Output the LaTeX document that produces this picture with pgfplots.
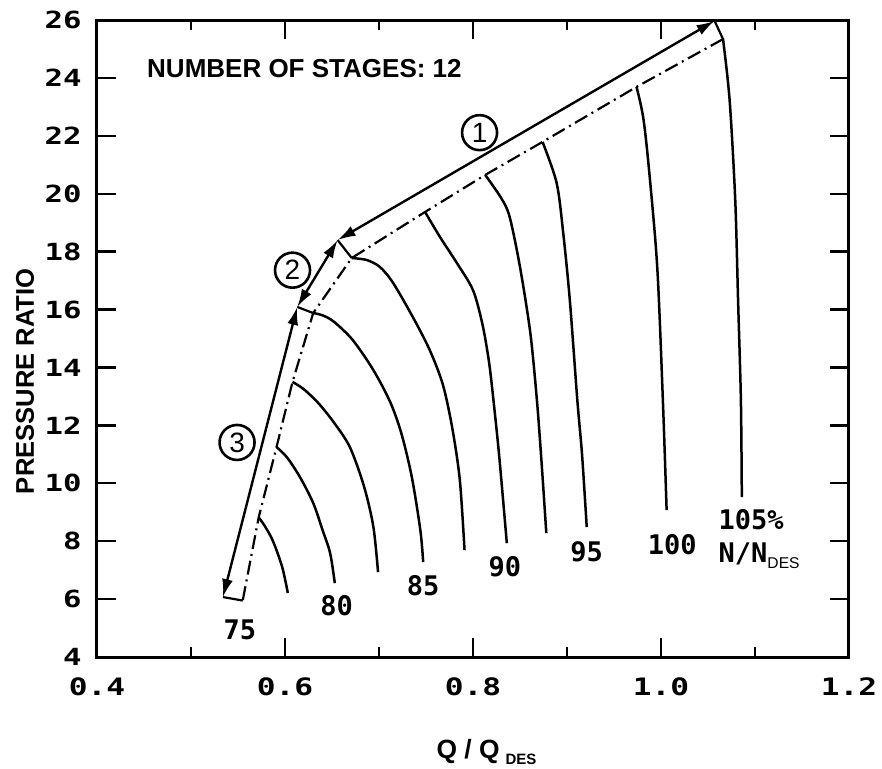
\documentclass[border=0pt]{standalone}
\usepackage{fontspec}
\setmainfont{Liberation Sans}
\newfontfamily\tickfont[FakeStretch=1.3]{DejaVu Sans Mono Bold}
\newfontfamily\labfont{DejaVu Sans Mono Bold}
\usepackage{pgfplots}
\pgfplotsset{compat=1.18}
\usetikzlibrary{arrows.meta}
\begin{document}
\begin{tikzpicture}
\path[use as bounding box] (-48.5pt,-55.5pt) rectangle (392.5pt,328.5pt);
\begin{axis}[
  name=ax, at={(0,0)}, anchor=south west,
  scale only axis, width=376pt, height=318.5pt,
  xmin=0.4, xmax=1.2, ymin=4, ymax=26,
  xtick={0.4,0.6,0.8,1.0,1.2},
  xticklabels={0.4,0.6,0.8,1.0,1.2},
  minor xtick={0.5,0.7,0.9,1.1},
  ytick={4,6,8,10,12,14,16,18,20,22,24,26},
  yticklabels={4,6,8,10,12,14,16,18,20,22,24,26},
  tick align=inside,
  major tick length=9.5pt, minor tick length=5pt,
  every tick/.style={black, line width=1.2pt},
  axis line style={line width=1.5pt},
  xticklabel style={font=\tickfont\fontsize{12}{13}\selectfont, inner sep=0pt, anchor=north, yshift=-10pt},
  yticklabel style={font=\tickfont\fontsize{11.8}{13}\selectfont, inner sep=0pt, anchor=east, xshift=-7.5pt},
  xlabel={Q / Q\hspace{3pt}\raisebox{-3pt}{\fontsize{7.5}{8}\selectfont DES}},
  xlabel style={font=\bfseries\fontsize{13.2}{14}\selectfont, at={(axis description cs:0.518,-0.1586)}, anchor=base},
  ylabel={PRESSURE RATIO},
  ylabel style={font=\bfseries\fontsize{12.8}{14}\selectfont, at={(axis description cs:-0.0957,0.433)}, anchor=center},
  clip=false,
]
% speed lines
\pgfplotsset{spd/.style={black, line width=1.25pt, smooth, tension=0.5, mark=none}}
\addplot[spd] coordinates {(0.572,8.82)(0.578,8.55)(0.587,8.02)(0.597,7.11)(0.603,6.21)};
\addplot[spd] coordinates {(0.591,11.25)(0.602,10.90)(0.616,10.21)(0.630,9.32)(0.640,8.38)(0.648,7.59)(0.653,6.55)};
\addplot[spd] coordinates {(0.608,13.50)(0.620,13.25)(0.636,12.75)(0.652,12.10)(0.669,11.25)(0.684,9.90)(0.694,8.50)(0.699,6.93)};
\addplot[spd] coordinates {(0.630,15.88)(0.640,15.80)(0.652,15.58)(0.672,14.95)(0.694,13.91)(0.712,12.80)(0.724,11.70)(0.735,10.20)(0.744,8.38)(0.747,7.28)};
\addplot[spd] coordinates {(0.671,17.78)(0.687,17.71)(0.701,17.47)(0.715,16.92)(0.736,15.74)(0.754,14.60)(0.768,13.40)(0.778,11.90)(0.786,10.11)(0.791,7.69)};
\addplot[spd] coordinates {(0.749,19.37)(0.765,18.50)(0.783,17.60)(0.800,16.67)(0.810,15.50)(0.817,14.20)(0.822,12.80)(0.828,10.90)(0.836,7.93)};
\addplot[spd] coordinates {(0.813,20.65)(0.830,19.85)(0.839,19.20)(0.850,17.47)(0.861,15.19)(0.868,12.87)(0.873,10.70)(0.878,8.28)};
\addplot[spd] coordinates {(0.874,21.79)(0.889,20.37)(0.896,18.64)(0.903,16.33)(0.911,12.87)(0.916,11.00)(0.921,8.49)};
\addplot[spd] coordinates {(0.974,23.69)(0.981,22.65)(0.987,20.92)(0.996,17.47)(1.002,12.87)(1.006,9.07)};
\addplot[spd] coordinates {(1.066,25.34)(1.073,23.24)(1.079,19.78)(1.082,16.33)(1.085,12.87)(1.086,9.52)};
% surge line (dash-dot)
\addplot[black, line width=1.1pt, dash pattern=on 7pt off 2.5pt on 1pt off 2.5pt, mark=none]
  coordinates {(1.066,25.34)(0.974,23.69)(0.874,21.79)(0.813,20.65)(0.749,19.37)(0.671,17.78)(0.630,15.88)(0.608,13.50)(0.591,11.25)(0.572,8.82)(0.555,5.95)};
% arrow segments
\pgfplotsset{arr/.style={black, line width=1.2pt, mark=none, arrows={Latex[length=9pt,width=5.5pt]-Latex[length=9pt,width=5.5pt]}}}
\addplot[arr] coordinates {(0.656,18.40)(1.057,25.97)};
\addplot[arr] coordinates {(0.613,16.09)(0.656,18.40)};
\addplot[arr] coordinates {(0.534,6.07)(0.613,16.09)};
% connectors
\addplot[black, line width=1.1pt, mark=none] coordinates {(1.057,25.97)(1.066,25.34)};
\addplot[black, line width=1.1pt, mark=none] coordinates {(0.656,18.40)(0.671,17.78)};
\addplot[black, line width=1.1pt, mark=none] coordinates {(0.613,16.09)(0.630,15.88)};
\addplot[black, line width=1.1pt, mark=none] coordinates {(0.534,6.07)(0.555,5.95)};
% labels
\node[font=\labfont\fontsize{13.5}{14}\selectfont] at (axis cs:0.552,4.93) {75};
\node[font=\labfont\fontsize{13.5}{14}\selectfont] at (axis cs:0.655,5.79) {80};
\node[font=\labfont\fontsize{13.5}{14}\selectfont] at (axis cs:0.747,6.48) {85};
\node[font=\labfont\fontsize{13.5}{14}\selectfont] at (axis cs:0.834,7.11) {90};
\node[font=\labfont\fontsize{13.5}{14}\selectfont] at (axis cs:0.921,7.62) {95};
\node[font=\labfont\fontsize{13.5}{14}\selectfont] at (axis cs:1.012,7.87) {100};
\node[font=\labfont\fontsize{13.5}{14}\selectfont, anchor=west, inner sep=0pt] at (axis cs:1.061,8.76) {105\%};
\node[anchor=west, inner sep=0pt] at (axis cs:1.061,7.49) {{\labfont\fontsize{13.5}{14}\selectfont N/N}\raisebox{-3pt}{\fontsize{7.8}{8}\selectfont DES}};
\node[font=\bfseries\fontsize{13}{14}\selectfont, anchor=west, inner sep=0pt] at (axis cs:0.453,24.34) {NUMBER OF STAGES: 12};
\node[circle, draw, line width=1.3pt, minimum size=17.5pt, inner sep=0pt, font=\fontsize{14}{14}\selectfont] at (axis cs:0.807,22.11) {1};
\node[circle, draw, line width=1.3pt, minimum size=17.5pt, inner sep=0pt, font=\fontsize{14}{14}\selectfont] at (axis cs:0.608,17.36) {2};
\node[circle, draw, line width=1.3pt, minimum size=17.5pt, inner sep=0pt, font=\fontsize{14}{14}\selectfont] at (axis cs:0.549,11.41) {3};
\end{axis}
\end{tikzpicture}
\end{document}
